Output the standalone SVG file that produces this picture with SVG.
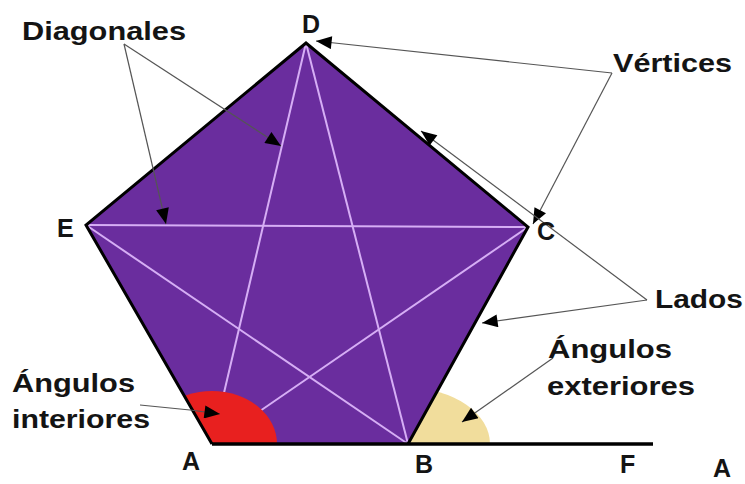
<svg xmlns="http://www.w3.org/2000/svg" width="745" height="484" viewBox="0 0 745 484">
<defs>
<marker id="ah" viewBox="0 0 12 10" refX="12" refY="5" markerWidth="17" markerHeight="13" markerUnits="userSpaceOnUse" orient="auto">
<path d="M0,0 L12,5 L0,10 Z" fill="#000"/>
</marker>
<clipPath id="pent"><polygon points="306,43 528,227 408,444 212,444 86,225"/></clipPath>
<clipPath id="ext"><polygon points="408,444 640,444 640,100 599,100"/></clipPath>
<style>
.lbl{font-family:"Liberation Sans",Arial,sans-serif;font-weight:bold;font-size:26px;fill:#141414}
.v{font-family:"Liberation Sans",Arial,sans-serif;font-weight:bold;font-size:25px;fill:#141414}
.diag{stroke:#d6aef5;stroke-width:2;fill:none}
.con{stroke:#555;stroke-width:1.2;fill:none;marker-end:url(#ah)}
</style>
</defs>
<rect width="745" height="484" fill="#fff"/>
<g id="pentagon">
<polygon points="306,43 528,227 408,444 212,444 86,225" fill="#6a2d9e"/>
<g class="diag">
<line x1="86" y1="225" x2="528" y2="227"/>
<line x1="86" y1="225" x2="408" y2="444"/>
<line x1="306" y1="43" x2="212" y2="444"/>
<line x1="306" y1="43" x2="408" y2="444"/>
<line x1="212" y1="444" x2="528" y2="227"/>
</g>
<ellipse cx="212" cy="444" rx="65" ry="53" fill="#e8201f" clip-path="url(#pent)"/>
<ellipse cx="408" cy="444" rx="82" ry="56" fill="#f1dd9c" clip-path="url(#ext)"/>
<polyline points="212,444 86,225 306,43 528,227 408,444" fill="none" stroke="#000" stroke-width="3" stroke-linejoin="miter"/>
<line x1="212" y1="444" x2="653" y2="444" stroke="#000" stroke-width="3.5"/>
</g>
<g id="connectors">
<line class="con" x1="124" y1="44" x2="281" y2="146"/>
<line class="con" x1="124" y1="44" x2="166" y2="224"/>
<line class="con" x1="612" y1="73" x2="316" y2="41"/>
<line class="con" x1="612" y1="73" x2="533" y2="224"/>
<line class="con" x1="647" y1="300" x2="421" y2="131"/>
<line class="con" x1="647" y1="300" x2="482" y2="323"/>
<line class="con" x1="553" y1="358" x2="462" y2="422"/>
<polyline class="con" points="140,405 190,410 220,414"/>
</g>
<g id="labels">
<text class="lbl" x="22" y="40" textLength="164" lengthAdjust="spacingAndGlyphs">Diagonales</text>
<text class="lbl" x="613" y="72" textLength="119" lengthAdjust="spacingAndGlyphs">Vértices</text>
<text class="lbl" x="655" y="308" textLength="88" lengthAdjust="spacingAndGlyphs">Lados</text>
<text class="lbl" x="548" y="358" textLength="124" lengthAdjust="spacingAndGlyphs">Ángulos</text>
<text class="lbl" x="547" y="395" textLength="148" lengthAdjust="spacingAndGlyphs">exteriores</text>
<text class="lbl" x="12" y="392" textLength="123" lengthAdjust="spacingAndGlyphs">Ángulos</text>
<text class="lbl" x="12" y="428" textLength="138" lengthAdjust="spacingAndGlyphs">interiores</text>
</g>
<g id="vertex-labels">
<text class="v" x="302" y="33">D</text>
<text class="v" x="537" y="240">C</text>
<text class="v" x="57" y="237">E</text>
<text class="v" x="182" y="470">A</text>
<text class="v" x="415" y="473">B</text>
<text class="v" x="620" y="473">F</text>
<text class="v" x="713" y="477">A</text>
</g>
</svg>
